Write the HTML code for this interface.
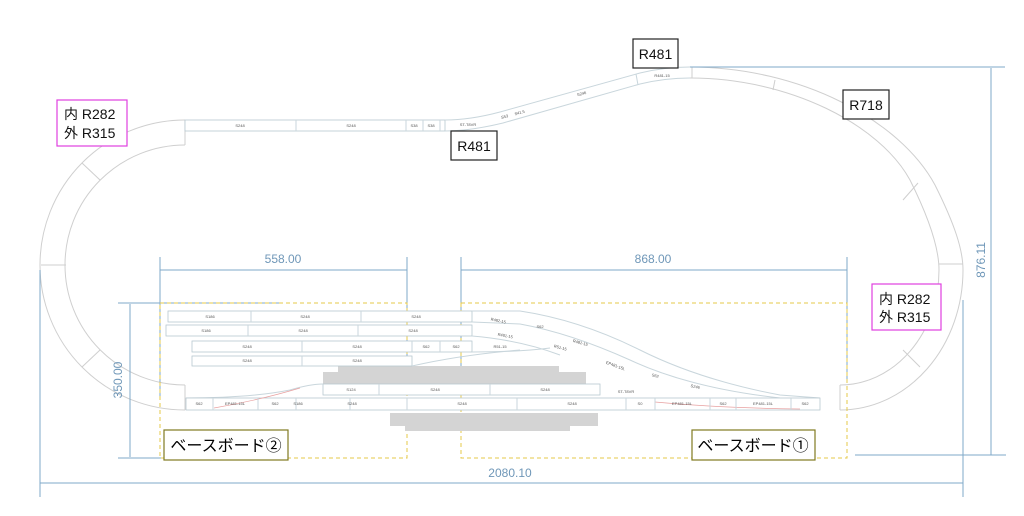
<!DOCTYPE html>
<html><head><meta charset="utf-8"><style>
body{margin:0;background:#fff;}
svg{display:block;font-family:"Liberation Sans","Noto Sans CJK JP",sans-serif;}
.t{fill:none;stroke:#c9d6dc;stroke-width:1}
.c{fill:none;stroke:#cfcfcf;stroke-width:1}
.d{stroke:#7fa8c8;stroke-width:1;fill:none}
.dt{fill:#6f97b8;font-size:12px}
.s{font-size:4px;fill:#555;text-anchor:middle}
.r{fill:#fff;stroke:#b8c8d0;stroke-width:.8}
.b{fill:none;stroke:#e6c84a;stroke-width:1;stroke-dasharray:4 3}
.g{fill:#d4d4d4}
.lb{font-size:14px;fill:#111}
</style></head><body>
<svg width="1024" height="516" viewBox="0 0 1024 516">
<!-- left loop -->
<path class="c" d="M185 120 A145 145 0 0 0 185 410"/>
<path class="c" d="M185 145 A120 120 0 0 0 185 385"/>
<line class="c" x1="82" y1="163" x2="100" y2="180"/>
<line class="c" x1="41" y1="265" x2="66" y2="265"/>
<line class="c" x1="82" y1="367" x2="100" y2="350"/>
<line class="c" x1="185" y1="120" x2="185" y2="145"/>
<!-- top straight -->
<rect class="r" x="185" y="120" width="260" height="11"/>
<line class="t" x1="296" y1="120" x2="296" y2="131"/>
<line class="t" x1="406" y1="120" x2="406" y2="131"/>
<line class="t" x1="423" y1="120" x2="423" y2="131"/>
<line class="t" x1="440" y1="120" x2="440" y2="131"/>
<text class="s" x="240" y="127">S248</text><text class="s" x="351" y="127">S248</text>
<text class="s" x="414" y="127">S38</text><text class="s" x="431" y="127">S38</text>
<text class="s" x="468" y="126">ST-T8VR</text>
<path class="t" d="M445 120 Q470 120 500 112 L640 73 Q665 67 690 67"/>
<path class="t" d="M445 131 Q470 131 503 123 L640 84 Q665 78 690 78"/>
<text class="s" x="505" y="118" transform="rotate(-15 505 118)">S53</text>
<text class="s" x="520" y="114" transform="rotate(-15 520 114)">S41.5</text>
<text class="s" x="582" y="95" transform="rotate(-16 582 95)">S246</text>
<text class="s" x="662" y="77">R481-15</text>
<line class="t" x1="636" y1="74" x2="638" y2="85"/>
<!-- right loop -->
<path class="c" d="M690 67 C800 67 900 120 935 185 C955 225 963 250 963 270 A123 140 0 0 1 840 410"/>
<path class="c" d="M690 78 C790 78 880 125 910 180 C930 220 939 250 939 270 A99 115 0 0 1 840 385"/>
<line class="c" x1="692" y1="67" x2="692" y2="78"/>
<line class="c" x1="775" y1="80" x2="773" y2="90"/>
<line class="c" x1="918" y1="183" x2="903" y2="200"/>
<line class="c" x1="939" y1="264" x2="963" y2="264"/>
<line class="c" x1="903" y1="350" x2="920" y2="367"/>
<line class="c" x1="840" y1="385" x2="840" y2="410"/>
<!-- bottom-left curve ends -->
<line class="c" x1="185" y1="385" x2="185" y2="410"/>
<!-- dimensions -->
<line class="d" x1="690" y1="67" x2="1005" y2="67"/>
<line class="d" x1="855" y1="455" x2="1006" y2="455"/>
<line class="d" x1="991" y1="68" x2="991" y2="455"/>
<text class="dt" transform="translate(985 260) rotate(-90)" text-anchor="middle">876.11</text>
<line class="d" x1="40" y1="270" x2="40" y2="497"/>
<line class="d" x1="963" y1="300" x2="963" y2="497"/>
<line class="d" x1="40" y1="483" x2="963" y2="483"/>
<text class="dt" x="510" y="477" text-anchor="middle">2080.10</text>
<line class="d" x1="118" y1="303" x2="280" y2="303"/>
<line class="d" x1="118" y1="458" x2="165" y2="458"/>
<line class="d" x1="130" y1="304" x2="130" y2="457"/>
<text class="dt" transform="translate(122 380) rotate(-90)" text-anchor="middle">350.00</text>
<line class="d" x1="160" y1="257" x2="160" y2="400"/>
<line class="d" x1="407" y1="257" x2="407" y2="380"/>
<line class="d" x1="160" y1="270" x2="407" y2="270"/>
<text class="dt" x="283" y="263" text-anchor="middle">558.00</text>
<line class="d" x1="461" y1="257" x2="461" y2="380"/>
<line class="d" x1="847" y1="257" x2="847" y2="380"/>
<line class="d" x1="461" y1="270" x2="847" y2="270"/>
<text class="dt" x="653" y="263" text-anchor="middle">868.00</text>
<!-- baseboards -->
<rect class="b" x="160" y="303" width="247" height="155"/>
<rect class="b" x="461" y="303" width="386" height="155"/>
<!-- gray -->
<rect class="g" x="323" y="372" width="263" height="12"/>
<rect class="g" x="338" y="366" width="221" height="10"/>
<rect class="g" x="390" y="413" width="208" height="13"/>
<rect class="g" x="405" y="420" width="165" height="11"/>
<!-- yard rows -->
<rect class="r" x="168" y="311" width="304" height="11"/>
<line class="t" x1="251" y1="311" x2="251" y2="322"/><line class="t" x1="361" y1="311" x2="361" y2="322"/>
<text class="s" x="210" y="318">S186</text><text class="s" x="305" y="318">S248</text><text class="s" x="416" y="318">S248</text>
<rect class="r" x="166" y="325" width="306" height="11"/>
<line class="t" x1="248" y1="325" x2="248" y2="336"/><line class="t" x1="358" y1="325" x2="358" y2="336"/>
<text class="s" x="206" y="332">S186</text><text class="s" x="303" y="332">S248</text><text class="s" x="413" y="332">S248</text>
<rect class="r" x="192" y="341" width="280" height="11"/>
<line class="t" x1="302" y1="341" x2="302" y2="352"/><line class="t" x1="412" y1="341" x2="412" y2="352"/><line class="t" x1="440" y1="341" x2="440" y2="352"/>
<text class="s" x="247" y="348">S248</text><text class="s" x="357" y="348">S248</text><text class="s" x="426" y="348">S62</text><text class="s" x="456" y="348">S62</text>
<rect class="r" x="192" y="356" width="220" height="10"/>
<line class="t" x1="302" y1="356" x2="302" y2="366"/>
<text class="s" x="247" y="362">S248</text><text class="s" x="357" y="362">S248</text>
<!-- right side turnouts -->
<path class="t" d="M472 311 L520 311 Q580 320 640 350 Q700 380 780 395 L820 398"/>
<path class="t" d="M472 322 L520 324 Q570 333 630 360 Q690 388 780 398"/>
<path class="t" d="M472 336 Q520 340 560 355"/>
<path class="t" d="M472 352 Q520 352 550 348"/>
<path class="t" d="M412 366 Q460 355 520 350"/>
<text class="s" x="498" y="322" transform="rotate(12 498 322)">R482-15</text>
<text class="s" x="540" y="328">S62</text>
<text class="s" x="505" y="337" transform="rotate(10 505 337)">R481-15</text>
<text class="s" x="580" y="344" transform="rotate(15 580 344)">R481-15</text>
<text class="s" x="560" y="349" transform="rotate(15 560 349)">R51-15</text>
<text class="s" x="500" y="348">R51-15</text>
<text class="s" x="615" y="367" transform="rotate(20 615 367)">EP481-15L</text>
<text class="s" x="655" y="377" transform="rotate(15 655 377)">S62</text>
<text class="s" x="695" y="388" transform="rotate(12 695 388)">S246</text>
<rect class="r" x="323" y="384" width="277" height="11"/>
<line class="t" x1="379" y1="384" x2="379" y2="395"/><line class="t" x1="490" y1="384" x2="490" y2="395"/>
<text class="s" x="351" y="391">S124</text><text class="s" x="435" y="391">S248</text><text class="s" x="545" y="391">S248</text>
<text class="s" x="626" y="393">ST-T8VR</text>
<path class="t" d="M186 398 Q250 398 290 390 Q310 384 323 384"/>
<rect class="r" x="186" y="398" width="634" height="12"/>
<path fill="none" stroke="#e8a0a0" stroke-width=".7" d="M214 408 Q260 400 300 388"/>
<path fill="none" stroke="#e8a0a0" stroke-width=".7" d="M655 402 Q720 408 800 409"/>
<line class="t" x1="213" y1="398" x2="213" y2="410"/><line class="t" x1="258" y1="398" x2="258" y2="410"/>
<line class="t" x1="296" y1="398" x2="296" y2="410"/><line class="t" x1="350" y1="398" x2="350" y2="410"/>
<line class="t" x1="407" y1="398" x2="407" y2="410"/><line class="t" x1="517" y1="398" x2="517" y2="410"/>
<line class="t" x1="626" y1="398" x2="626" y2="410"/><line class="t" x1="655" y1="398" x2="655" y2="410"/>
<line class="t" x1="710" y1="398" x2="710" y2="410"/><line class="t" x1="736" y1="398" x2="736" y2="410"/>
<line class="t" x1="791" y1="398" x2="791" y2="410"/>
<text class="s" x="199" y="405">S62</text><text class="s" x="235" y="405">EP481-15L</text>
<text class="s" x="275" y="405">S62</text><text class="s" x="298" y="405">S186</text>
<text class="s" x="352" y="405">S248</text><text class="s" x="462" y="405">S248</text>
<text class="s" x="572" y="405">S248</text><text class="s" x="640" y="405">S0</text>
<text class="s" x="682" y="405">EP481-15L</text><text class="s" x="723" y="405">S62</text>
<text class="s" x="763" y="405">EP481-15L</text><text class="s" x="805" y="405">S62</text>
<!-- label boxes -->
<rect x="57" y="100" width="70" height="46" fill="#fff" stroke="#e040e0" stroke-width="1.2"/>
<text class="lb" x="64" y="119">内 R282</text><text class="lb" x="64" y="138">外 R315</text>
<rect x="872" y="284" width="69" height="46" fill="#fff" stroke="#e040e0" stroke-width="1.2"/>
<text class="lb" x="879" y="304">内 R282</text><text class="lb" x="879" y="322">外 R315</text>
<rect x="633" y="39" width="45" height="29" fill="#fff" stroke="#222" stroke-width="1.2"/>
<text class="lb" x="655.5" y="59" text-anchor="middle">R481</text>
<rect x="451" y="131" width="46" height="29" fill="#fff" stroke="#222" stroke-width="1.2"/>
<text class="lb" x="474" y="151" text-anchor="middle">R481</text>
<rect x="843" y="90" width="46" height="29" fill="#fff" stroke="#222" stroke-width="1.2"/>
<text class="lb" x="866" y="110" text-anchor="middle">R718</text>
<rect x="164" y="430" width="124" height="30" fill="#fff" stroke="#807a20" stroke-width="1.2"/>
<text x="226" y="451" text-anchor="middle" style="font-size:16px">ベースボード②</text>
<rect x="692" y="430" width="123" height="30" fill="#fff" stroke="#807a20" stroke-width="1.2"/>
<text x="753" y="451" text-anchor="middle" style="font-size:16px">ベースボード①</text>
</svg>
</body></html>
